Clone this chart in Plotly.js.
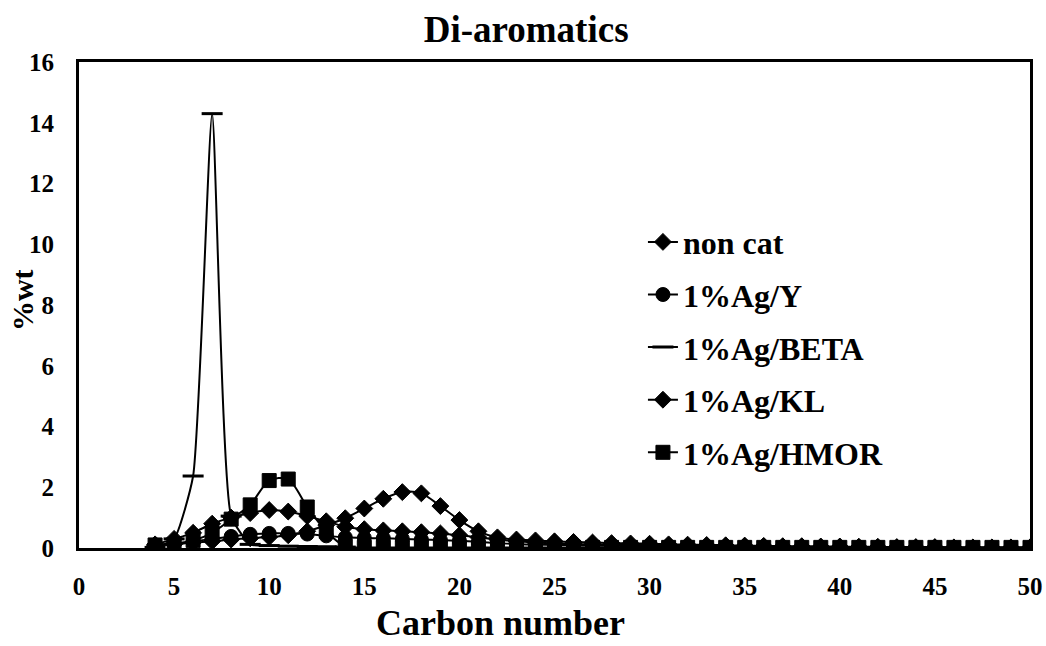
<!DOCTYPE html>
<html>
<head>
<meta charset="utf-8">
<script src="https://cdn.plot.ly/plotly-3.0.1.min.js"></script>
<style>html,body{margin:0;padding:0;background:#fff;}#chart{width:1046px;height:646px;}</style>
</head>
<body>
<div id="chart"></div>
<script>
// Carbon numbers
const carbon = [4,5,6,7,8,9,10,11,12,13,14,15,16,17,18,19,20,21,22,23,24,25,26,27,28,29,30,31,32,33,34,35,36,37,38,39,40,41,42,43,44,45,46,47,48,49,50];
const carbonBeta = [4,5,6,7,8,9,10,11,12,13,14];

const nonCat = [0.08,0.12,0.18,0.22,0.28,0.32,0.36,0.42,0.55,0.75,0.98,1.30,1.62,1.84,1.80,1.38,0.92,0.55,0.35,0.28,0.25,0.22,0.20,0.18,0.16,0.15,0.14,0.12,0.11,0.10,0.09,0.08,0.07,0.06,0.06,0.05,0.05,0.04,0.04,0.03,0.03,0.03,0.02,0.02,0.02,0.02,0.02];
const agY = [0.10,0.15,0.22,0.30,0.38,0.45,0.48,0.48,0.46,0.40,0.35,0.33,0.32,0.30,0.28,0.26,0.24,0.20,0.16,0.13,0.11,0.10,0.09,0.08,0.07,0.06,0.06,0.05,0.05,0.04,0.04,0.04,0.03,0.03,0.03,0.02,0.02,0.02,0.02,0.02,0.01,0.01,0.01,0.01,0.01,0.01,0.01];
const agBeta = [0.02,0.30,2.37,14.30,1.05,0.12,0.08,0.06,0.05,0.04,0.03];
const agKL = [0.12,0.30,0.50,0.80,1.00,1.15,1.25,1.20,1.05,0.88,0.70,0.62,0.58,0.55,0.52,0.48,0.42,0.35,0.28,0.22,0.18,0.15,0.13,0.12,0.11,0.10,0.09,0.08,0.07,0.06,0.06,0.05,0.05,0.04,0.04,0.03,0.03,0.03,0.02,0.02,0.02,0.02,0.01,0.01,0.01,0.01,0.01];
const agHMOR = [0.10,0.12,0.25,0.50,0.95,1.42,2.22,2.27,1.35,0.55,0.05,0.02,0.02,0.02,0.02,0.02,0.02,0.02,0.02,0.02,0.02,0.02,0.02,0.02,0.02,0.02,0.02,0.02,0.02,0.02,0.02,0.02,0.02,0.02,0.02,0.02,0.02,0.02,0.02,0.02,0.02,0.02,0.02,0.02,0.02,0.02,0.02];

const seriesNames = ["non cat","1%Ag/Y","1%Ag/BETA","1%Ag/KL","1%Ag/HMOR"];

const FONT = "Liberation Serif";
const lineStyle = {color:"#000", width:2, shape:"spline", smoothing:0.8};

function tr(name, x, y, symbol, size, extra) {
  return Object.assign({
    type:"scatter", mode:"lines+markers", name:name, legendgroup:name,
    x:x, y:y, line:Object.assign({}, lineStyle),
    marker:{symbol:symbol, size:size, color:"#000", line:{color:"#000", width:1}}
  }, extra||{});
}

const traces = [
  tr(seriesNames[0], carbon, nonCat, "diamond", 13),
  tr(seriesNames[1], carbon, agY, "circle", 14),
  tr(seriesNames[2], carbonBeta, agBeta, "line-ew", 14, {marker:{symbol:"line-ew", size:15, color:"#000", line:{color:"#000", width:3}}, line:{color:"#000", width:2, shape:"spline", smoothing:0.5}}),
  tr(seriesNames[3], carbon, agKL, "diamond", 13),
  tr(seriesNames[4], carbon, agHMOR, "square", 14)
];

const layout = {
  width:1046, height:646,
  paper_bgcolor:"#fff", plot_bgcolor:"#fff",
  margin:{l:79, r:16, t:62, b:98},
  font:{family:FONT, color:"#000", weight:"bold"},
  title:{text:"Di-aromatics", x:0.503, xanchor:"center", y:0.955, yanchor:"middle", font:{family:FONT, size:37, weight:"bold", color:"#000"}},
  xaxis:{range:[0,50], dtick:5, tick0:0, showgrid:false, zeroline:false, showline:true, mirror:true, linecolor:"#000", linewidth:3, ticks:"", ticklabelstandoff:14, tickfont:{family:FONT, size:25, weight:"bold", color:"#000"}},
  yaxis:{range:[0,16], dtick:2, tick0:0, showgrid:false, zeroline:false, showline:true, mirror:true, linecolor:"#000", linewidth:3, ticks:"", ticklabelstandoff:17, tickfont:{family:FONT, size:25, weight:"bold", color:"#000"}},
  showlegend:true,
  legend:{x:0.593, y:0.686, xanchor:"left", yanchor:"top", bgcolor:"rgba(0,0,0,0)", tracegroupgap:8, font:{family:FONT, size:32, weight:"bold", color:"#000"}},
  annotations:[
    {text:"Carbon number", xref:"paper", yref:"paper", x:0.443, y:-0.155, xanchor:"center", yanchor:"middle", showarrow:false, font:{family:FONT, size:36, weight:"bold", color:"#000"}},
    {text:"%wt", xref:"paper", x:-0.06, xanchor:"center", yref:"paper", y:0.51, yanchor:"middle", textangle:-90, showarrow:false, font:{family:FONT, size:30, weight:"bold", color:"#000"}}
  ]
};

Plotly.newPlot("chart", traces, layout, {displayModeBar:false, staticPlot:true});
</script>
</body>
</html>
